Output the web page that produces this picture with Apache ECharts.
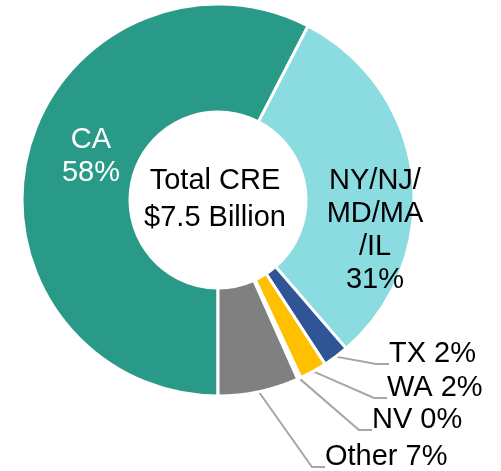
<!DOCTYPE html>
<html>
<head>
<meta charset="utf-8">
<script src="https://cdn.jsdelivr.net/npm/echarts@6/dist/echarts.min.js"></script>
<style>
  html, body { margin: 0; padding: 0; background: #fff; }
  #chart { width: 501px; height: 471px; }
</style>
</head>
<body>
<div id="chart"></div>
<script>
// CRE exposure by state, $ billions
var categories = ['CA', 'NY/NJ/MD/MA/IL', 'TX', 'WA', 'NV', 'Other'];
var labelNames = ['CA', 'NY/NJ/\nMD/MA\n/IL', 'TX', 'WA', 'NV', 'Other'];
var values = [4.32, 2.33, 0.16, 0.17, 0.02, 0.50];
var colors = ['#299A88', '#8ADCE0', '#2F5597', '#FFC000', '#FFFFFF', '#808080'];

// where each label sits (inside: centre of text block, outside: left edge / baseline)
var labelSpots = [[91, 156], [375, 230], [389, 364], [387, 398], [372, 430], [325, 467]];
var insideCount = 2;

var total = 0;
for (var i = 0; i < values.length; i++) total += values[i];

var myChart = echarts.init(document.getElementById('chart'));

var data = [];
for (var i = 0; i < values.length; i++) {
    var inside = i < insideCount;
    data.push({
        name: categories[i],
        value: values[i],
        itemStyle: { color: colors[i] },
        label: {
            position: inside ? 'inside' : 'outside',
            color: i == 0 ? '#ffffff' : '#000000',
            lineHeight: 33
        },
        labelLine: { show: !inside }
    });
}

var font = 'Liberation Sans, Arial, sans-serif';

var option = {
    animation: false,
    graphic: [{
        type: 'text',
        x: 215,
        y: 199,
        style: {
            text: 'Total CRE\n$' + total.toFixed(1) + ' Billion',
            fontSize: 29,
            fontFamily: font,
            fill: '#000',
            align: 'center',
            verticalAlign: 'middle',
            lineHeight: 37
        },
        z: 10
    }],
    series: [{
        type: 'pie',
        center: [218, 200],
        radius: [88, 196],
        startAngle: -90,
        clockwise: true,
        avoidLabelOverlap: false,
        itemStyle: { borderColor: '#ffffff', borderWidth: 3 },
        label: {
            fontSize: 29,
            fontFamily: font,
            formatter: function (p) {
                var pct = Math.round(p.value / total * 100);
                if (p.dataIndex < insideCount) return labelNames[p.dataIndex] + '\n' + pct + '%';
                // empty second line so the leader line meets the label near its baseline
                return '{t|' + labelNames[p.dataIndex] + ' ' + pct + '%}\n{s| }';
            },
            rich: {
                t: { fontSize: 29, fontFamily: font, lineHeight: 32, color: '#000' },
                s: { fontSize: 10, lineHeight: 20 }
            }
        },
        labelLine: {
            length: 10,
            length2: 13,
            lineStyle: { color: '#A6A6A6', width: 2 }
        },
        labelLayout: function (p) {
            var s = labelSpots[p.dataIndex];
            if (p.dataIndex < insideCount) {
                return { x: s[0], y: s[1], align: 'center', verticalAlign: 'middle' };
            }
            return { x: s[0], y: s[1], align: 'left', verticalAlign: 'middle' };
        },
        emphasis: { disabled: true },
        data: data
    }]
};

myChart.setOption(option);
</script>
</body>
</html>
